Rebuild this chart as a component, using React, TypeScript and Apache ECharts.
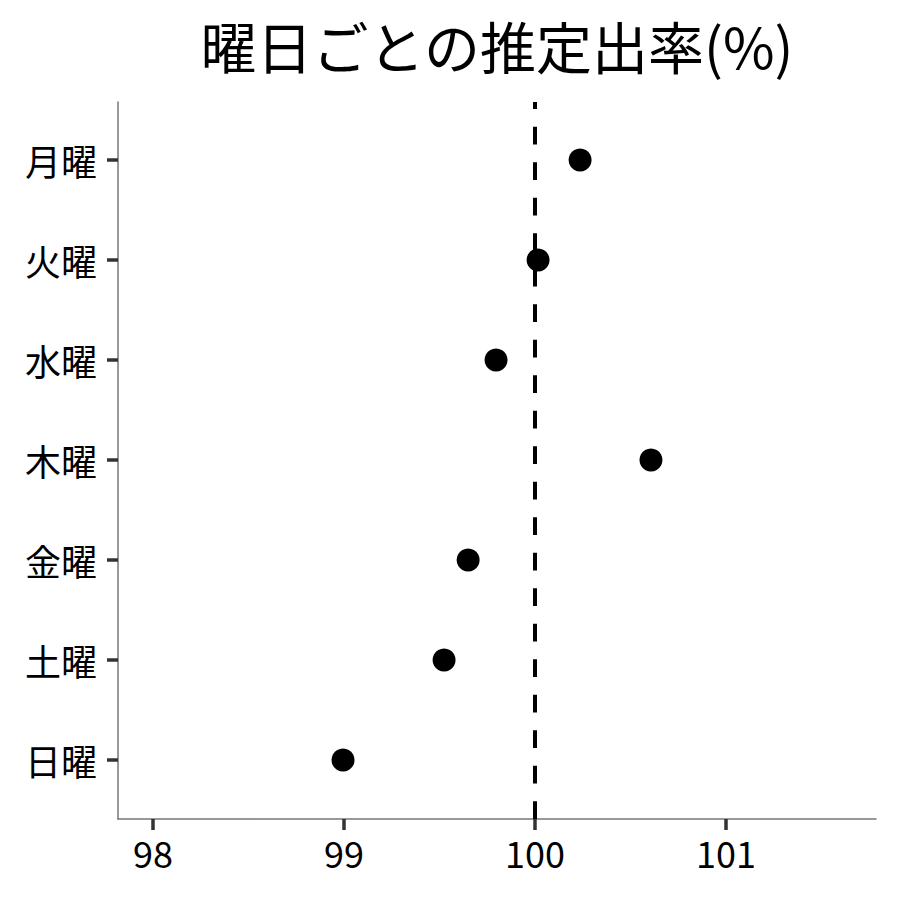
import React, { useEffect, useRef } from "react";
import * as echarts from "echarts";

const title = "曜日ごとの推定出率(%)";
const days = ["月曜", "火曜", "水曜", "木曜", "金曜", "土曜", "日曜"];
const rates = [100.236, 100.016, 99.796, 100.607, 99.65, 99.524, 98.995];
const xTicks = [98, 99, 100, 101];
const refValue = 100;

const FONT = "'Noto Sans CJK JP', 'Noto Sans', sans-serif";
const Y_MIN = 0.41;
const Y_MAX = 7.58;

export default function App() {
  const ref = useRef<HTMLDivElement>(null);
  useEffect(() => {
    if (!ref.current) return;
    const chart = echarts.init(ref.current, null, { renderer: "svg" });
    const n = days.length;
    // top category gets highest value
    const yPos = days.map((_, i) => n - i);
    const data = rates.map((v, i) => [v, yPos[i]]);
    chart.setOption({
      animation: false,
      backgroundColor: "#ffffff",
      textStyle: { fontFamily: FONT },
      graphic: [
        {
          type: "text",
          x: 497,
          y: 44,
          style: {
            text: title,
            fontFamily: FONT,
            fontSize: 56,
            fill: "#000",
            textAlign: "center",
            textVerticalAlign: "middle",
          },
        },
      ],
      grid: { left: 118, right: 24, top: 102, bottom: 81, containLabel: false },
      xAxis: {
        type: "value",
        min: 97.817,
        max: 101.785,
        splitLine: { show: false },
        axisLine: { show: true, lineStyle: { color: "#777", width: 1.5 } },
        axisTick: {
          show: true,
          length: 11,
          customValues: xTicks,
          lineStyle: { color: "#333", width: 3.5 },
        },
        axisLabel: {
          customValues: xTicks,
          fontFamily: FONT,
          fontSize: 36,
          color: "#000",
          margin: 15,
          formatter: (v: number) => String(v),
        },
      },
      yAxis: {
        type: "value",
        min: Y_MIN,
        max: Y_MAX,
        splitLine: { show: false },
        axisLine: { show: true, lineStyle: { color: "#777", width: 1.5 } },
        axisTick: {
          show: true,
          length: 11,
          customValues: yPos,
          lineStyle: { color: "#333", width: 3.5 },
        },
        axisLabel: {
          customValues: yPos,
          fontFamily: FONT,
          fontSize: 36,
          color: "#000",
          margin: 21,
          formatter: (v: number) => days[n - Math.round(v)] ?? "",
        },
      },
      series: [
        {
          type: "scatter",
          data,
          symbol: "circle",
          symbolSize: 23,
          itemStyle: { color: "#000", opacity: 1 },
          z: 3,
          markLine: {
            silent: true,
            symbol: ["none", "none"],
            label: { show: false },
            lineStyle: { color: "#000", width: 4, opacity: 1, type: [17.7, 17.8], dashOffset: 0 },
            data: [[{ coord: [refValue, Y_MIN] }, { coord: [refValue, Y_MAX] }]],
            z: 2,
          },
        },
      ],
    });
    return () => chart.dispose();
  }, []);
  return <div ref={ref} style={{ width: 900, height: 900, margin: -8 }} />;
}
